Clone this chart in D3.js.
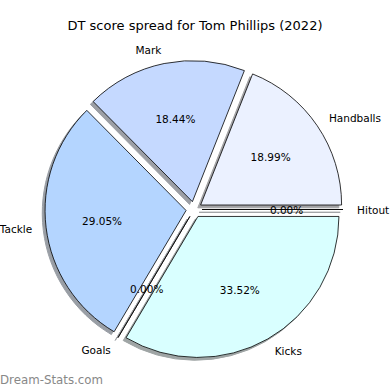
<!DOCTYPE html>
<html>
<head>
<meta charset="utf-8">
<script src="https://cdn.jsdelivr.net/npm/d3@7"></script>
<style>
  body { margin: 0; background: #fff; }
  svg { display: block; font-family: "DejaVu Sans", sans-serif; }
</style>
</head>
<body>
<svg id="chart" width="390" height="390"></svg>
<script>
// data, counter-clockwise from 3 o'clock
const categories = ["Handballs", "Mark", "Tackle", "Goals", "Kicks", "Hitout"];
const shares = [18.99, 18.44, 29.05, 0, 33.52, 0];
const sliceColors = ["#ebf1ff", "#c5d9ff", "#b4d5ff", "#cde6ff", "#d9ffff", "#e0ecff"];
const title = "DT score spread for Tom Phillips (2022)";

// layout
const cx = 194, cy = 209.5, radius = 141, explode = 8;
const labelDist = 1.1, pctDist = 0.6, shadowOff = 2.8;

const svg = d3.select("#chart");
const total = d3.sum(shares);
const fmt = d3.format(".2f");

// d3.pie gives cumulative angles; treat them as math angles (ccw from east)
const arcs = d3.pie().sort(null).startAngle(0).endAngle(2 * Math.PI)(shares);

const slices = arcs.map((a, i) => {
  const mid = (a.startAngle + a.endAngle) / 2;
  const ox = cx + explode * Math.cos(mid);
  const oy = cy - explode * Math.sin(mid);
  const p = d3.path();
  p.moveTo(0, 0);
  p.lineTo(radius * Math.cos(a.startAngle), -radius * Math.sin(a.startAngle));
  p.arc(0, 0, radius, -a.startAngle, -a.endAngle, true);
  p.closePath();
  return { i, mid, ox, oy, path: p.toString(), value: a.data };
});

function darker(c) {
  const col = d3.rgb(c);
  return d3.rgb(col.r * 0.3, col.g * 0.3, col.b * 0.3).toString();
}

// shadows under everything
svg.append("g").selectAll("path")
  .data(slices)
  .join("path")
  .attr("transform", d => `translate(${d.ox - shadowOff},${d.oy + shadowOff})`)
  .attr("d", d => d.path)
  .attr("fill", d => darker(sliceColors[d.i]))
  .attr("stroke", d => darker(sliceColors[d.i]))
  .attr("stroke-width", 1)
  .attr("opacity", 0.5);

svg.append("g").selectAll("path")
  .data(slices)
  .join("path")
  .attr("transform", d => `translate(${d.ox},${d.oy})`)
  .attr("d", d => d.path)
  .attr("fill", d => sliceColors[d.i])
  .attr("stroke", "#000")
  .attr("stroke-width", 0.8)
  .attr("stroke-linejoin", "round");

// category labels
svg.append("g").selectAll("text")
  .data(slices)
  .join("text")
  .attr("x", d => d.ox + labelDist * radius * Math.cos(d.mid))
  .attr("y", d => d.oy - labelDist * radius * Math.sin(d.mid))
  .attr("text-anchor", d => (d.ox + labelDist * radius * Math.cos(d.mid)) > cx ? "start" : "end")
  .attr("dominant-baseline", "central")
  .attr("font-size", 10.5)
  .attr("fill", "#000")
  .text(d => categories[d.i]);

// percentages
svg.append("g").selectAll("text")
  .data(slices)
  .join("text")
  .attr("x", d => d.ox + pctDist * radius * Math.cos(d.mid))
  .attr("y", d => d.oy - pctDist * radius * Math.sin(d.mid))
  .attr("text-anchor", "middle")
  .attr("dominant-baseline", "central")
  .attr("font-size", 10.5)
  .attr("fill", "#000")
  .text(d => fmt(d.value / total * 100) + "%");

svg.append("text")
  .attr("x", 195)
  .attr("y", 29.5)
  .attr("text-anchor", "middle")
  .attr("font-size", 13)
  .attr("fill", "#000")
  .text(title);

svg.append("text")
  .attr("x", 0)
  .attr("y", 384)
  .attr("font-size", 11.8)
  .attr("fill", "#888")
  .text("Dream-Stats.com");
</script>
</body>
</html>
